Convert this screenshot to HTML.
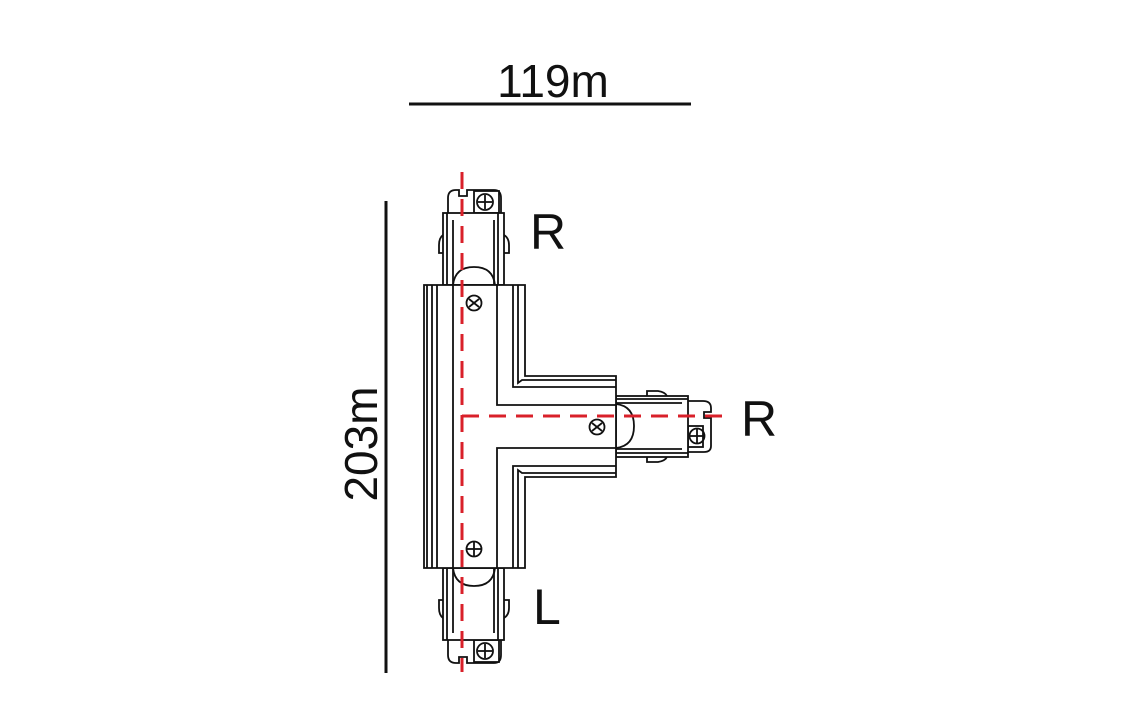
<!DOCTYPE html>
<html><head><style>
html,body{margin:0;padding:0;background:#fff;}
svg{display:block;}
text{font-family:"Liberation Sans",sans-serif;fill:#111;}
</style></head><body>
<svg width="1141" height="720" viewBox="0 0 1141 720" xmlns="http://www.w3.org/2000/svg">
<rect width="1141" height="720" fill="#fff"/>
<!-- dimensions -->
<line x1="409" y1="104" x2="691" y2="104" stroke="#111" stroke-width="3"/>
<text x="553" y="97" font-size="46" text-anchor="middle">119m</text>
<line x1="386" y1="201" x2="386" y2="673" stroke="#111" stroke-width="3"/>
<text transform="translate(377,444) rotate(-90)" font-size="46" text-anchor="middle">203m</text>
<!-- labels -->
<text x="530" y="249" font-size="50">R</text>
<text x="741" y="436" font-size="50">R</text>
<text x="533" y="624" font-size="50">L</text>

<g fill="none" stroke="#111" stroke-width="1.8">
<!-- top connector -->
<g id="conn">
<path d="M448,213 L448,198 Q448,190 456,190 L459,190 L459,196 L467,196 L467,190 L494,190 Q501,190 501,198 L501,213"/>
<rect x="474" y="191" width="25" height="22" fill="#fff"/>
<circle cx="485" cy="202" r="8"/>
<line x1="485" y1="195" x2="485" y2="209"/><line x1="478" y1="202" x2="492" y2="202"/>
<rect x="443" y="213" width="61" height="72" fill="#fff"/>
<line x1="447" y1="213" x2="447" y2="285"/><line x1="453" y1="220" x2="453" y2="285"/>
<line x1="498" y1="213" x2="498" y2="285"/><line x1="494" y1="220" x2="494" y2="285"/>
<path d="M443,235 Q439,238 439,245 L439,253 L443,253"/>
<path d="M504,235 Q509,238 509,245 L509,253 L504,253"/>
<path d="M453,285 Q455,267 474,267 Q493,267 495,285"/>
</g>
<use href="#conn" transform="translate(0,853) scale(1,-1)"/>
<!-- right connector -->
<path d="M688,401 L703,401 Q711,401 711,408 L711,412 L704,412 L704,418 L711,418 L711,446 Q711,452 704,452 L688,452"/>
<rect x="688" y="426" width="15" height="21" fill="#fff"/>
<circle cx="697" cy="436" r="7.5"/>
<line x1="697" y1="429" x2="697" y2="443"/><line x1="690" y1="436" x2="704" y2="436"/>
<path d="M647,396 L647,391 L658,391 Q665,392 667,396"/>
<path d="M647,457 L647,462 L658,462 Q665,461 667,457"/>
<rect x="616" y="396" width="72" height="61" fill="#fff"/>
<line x1="616" y1="399" x2="688" y2="399"/><line x1="616" y1="403" x2="682" y2="403"/>
<line x1="616" y1="453" x2="688" y2="453"/><line x1="616" y1="449" x2="682" y2="449"/>
<path d="M616,404 Q634,406 634,426 Q634,446 616,448"/>
<!-- T body -->
<path d="M424,285 L525,285 L525,376 L616,376 L616,477 L525,477 L525,568 L424,568 Z" fill="#fff"/>
<path d="M427,285 V568 M432,285 V568 M437,285 V568 M453,285 V568"/>
<path d="M497,285 V405 H616 M497,568 V448 H616"/>
<path d="M513,285 V387 H616 M518,285 V383 L522,380 H616"/>
<path d="M513,568 V466 H616 M518,568 V470 L522,473 H616"/>
<circle cx="474" cy="303" r="7.5"/><line x1="469" y1="299" x2="479" y2="307"/><line x1="479" y1="299" x2="469" y2="307"/>
<circle cx="597" cy="427" r="7.5"/><line x1="592" y1="423" x2="602" y2="431"/><line x1="602" y1="423" x2="592" y2="431"/>
<circle cx="474" cy="549" r="7.5"/><line x1="474" y1="542" x2="474" y2="556"/><line x1="467" y1="549" x2="481" y2="549"/>
</g>
<!-- centerlines -->
<g stroke="#d9202a" stroke-width="3" stroke-dasharray="17,10" fill="none">
<line x1="462" y1="172" x2="462" y2="672"/>
<line x1="462" y1="416" x2="723" y2="416"/>
</g>
</svg>
</body></html>
